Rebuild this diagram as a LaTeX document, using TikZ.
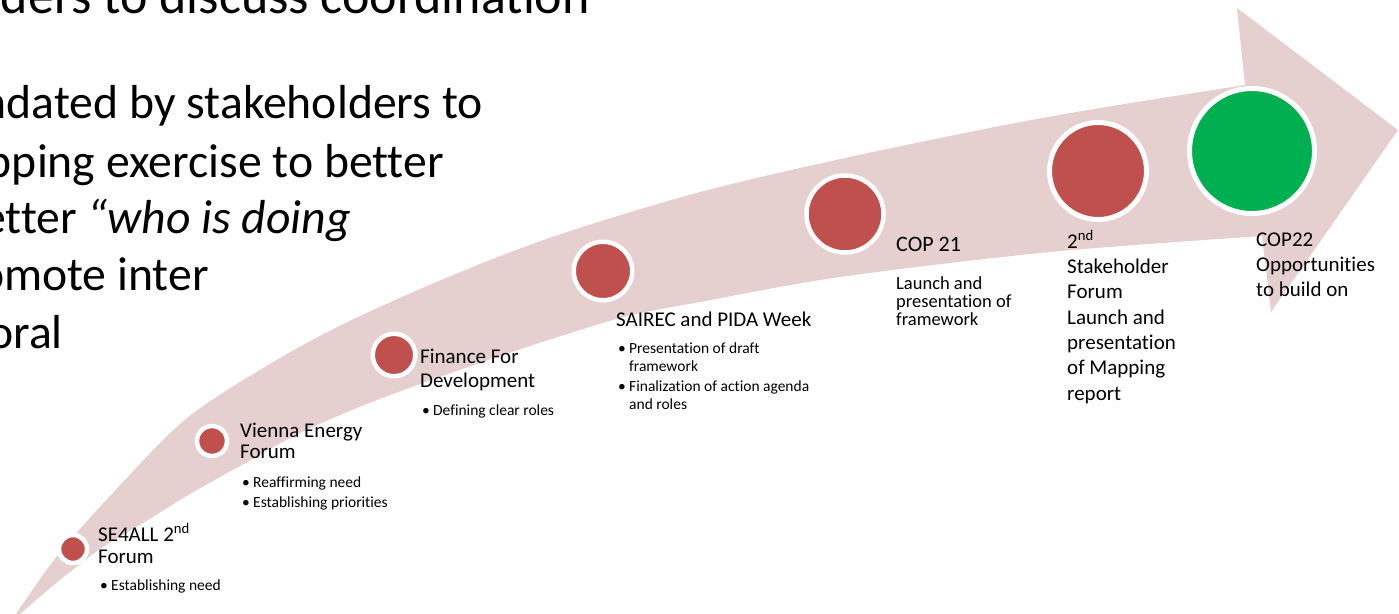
\documentclass[tikz,border=0pt]{standalone}
\usepackage{fontspec}
\setmainfont{Carlito}[Ligatures=NoCommon]
\usepackage{tikz}
\definecolor{bandpink}{HTML}{E6CFCF}
\definecolor{dotred}{HTML}{C0504D}
\definecolor{dotgreen}{HTML}{00B050}
\newcommand{\bull}{\makebox[11pt][l]{\textbullet}}
\newcommand{\ind}{\hspace*{11pt}}

\begin{document}
\begin{tikzpicture}[x=1pt,y=-1pt,
	dot/.style={circle,fill=dotred,draw=white,line width=4.5pt,inner sep=0pt},
	head/.style={anchor=base west,inner sep=0pt,align=left,font=\fontsize{21}{21.5}\selectfont},
	items/.style={anchor=base west,inner sep=0pt,align=left,font=\fontsize{15.5}{17.5}\selectfont},
	bigtext/.style={anchor=base east,inner sep=0pt,font=\fontsize{47.7}{57}\selectfont}]
	\clip (0,0) rectangle (1399,613);
	% text running in from the left (multi-line nodes sit on their last baseline)
	\node[bigtext,font=\fontsize{52}{60}\selectfont] (t1) at (590,13) {ders to discuss coordination};
	\node[bigtext] (t2) at (483,118) {ndated by stakeholders to};
	\node[bigtext] (t3) at (444,177) {pping exercise to better};
	\node[bigtext] (t4) at (351,233) {etter \textit{“who is doing}};
	\node[bigtext] (t5) at (209,290) {omote inter};
	\node[bigtext] (t6) at (63,348) {oral};
	% the curved arrow
	\fill[bandpink] plot[smooth] coordinates {(16,614) (57,556) (110,496) (187,418) (280,358) (360,316) (470,268) (567,232) (700,192) (845,158) (1000,126) (1100,108) (1245,85)}
		-- (1237,8) -- (1398,130) -- (1271,312) -- (1262,236)
		-- plot[smooth] coordinates {(1262,236) (1050,252) (840,277) (700,302) (620,318) (500,356) (377,400) (300,433) (240,466) (190,494) (143,523) (100,549) (55,584) (20,614)} -- cycle;
	% milestones
	\node[dot,minimum size=28pt] (se) at (73,549) {};
	\node[dot,minimum size=30pt] (vef) at (212,441) {};
	\node[dot,minimum size=42.5pt] (ffd) at (394,355) {};
	\node[dot,minimum size=58.5pt] (pida) at (603,271) {};
	\node[dot,minimum size=77pt] (cop21) at (845,214) {};
	\node[dot,minimum size=97pt,line width=5pt] (sf) at (1098,171) {};
	\node[dot,minimum size=125pt,line width=5pt,fill=dotgreen] (cop22) at (1252,151) {};
	% labels
	\node[head] (se-t) at (98,563) {SE4ALL 2\textsuperscript{nd}\\Forum};
	\node[items] (se-i) at (100,590) {\bull Establishing need};
	\node[head] (vef-t) at (240,458.5) {Vienna Energy\\Forum};
	\node[items] (vef-i) at (242,507) {\bull Reaffirming need\\[2.5pt]\bull Establishing priorities};
	\node[head,font=\fontsize{21}{24}\selectfont] (ffd-t) at (420,387) {Finance For\\Development};
	\node[items] (ffd-i) at (422,415) {\bull Defining clear roles};
	\node[head] (pida-t) at (616,326) {SAIREC and PIDA Week};
	\node[items] (pida-i) at (618,409) {\bull Presentation of draft\\\ind framework\\[3pt]\bull Finalization of action agenda\\\ind and roles};
	\node[head,font=\fontsize{22}{24}\selectfont] (cop21-t) at (896,251) {COP 21};
	\node[head,font=\fontsize{18.5}{18}\selectfont] (cop21-i) at (896,325) {Launch and\\presentation of\\framework};
	\node[head,font=\fontsize{21}{25.3}\selectfont] (sf-t) at (1067,400) {2\textsuperscript{nd}\\Stakeholder\\Forum\\Launch and\\presentation\\of Mapping\\report};
	\node[head,font=\fontsize{21}{25}\selectfont] (cop22-t) at (1256,296) {COP22\\Opportunities\\to build on};
\end{tikzpicture}
\end{document}
